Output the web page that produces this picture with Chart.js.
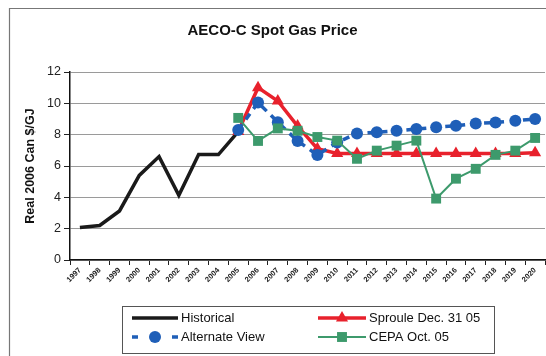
<!DOCTYPE html>
<html>
<head>
<meta charset="utf-8">
<script src="https://cdn.jsdelivr.net/npm/chart.js@4/dist/chart.umd.min.js"></script>
<style>
  html, body { margin: 0; padding: 0; background: #fff; }
  #wrap { width: 546px; height: 356px; position: relative; }
</style>
</head>
<body>
<div id="wrap"><canvas id="c" width="546" height="356"></canvas></div>
<script>
// Years on the category axis
const years = ['1997','1998','1999','2000','2001','2002','2003','2004','2005','2006','2007','2008',
               '2009','2010','2011','2012','2013','2014','2015','2016','2017','2018','2019','2020'];

// Real 2006 Can $/GJ
const historical = [2.08, 2.2, 3.13, 5.4, 6.6, 4.13, 6.73, 6.73, 8.2,
                    null, null, null, null, null, null, null, null, null, null, null, null, null, null, null];
const sproule = [null, null, null, null, null, null, null, null,
                 8.2, 11.0, 10.15, 8.55, 7.1, 6.8, 6.8, 6.8, 6.8, 6.8, 6.8, 6.8, 6.8, 6.8, 6.8, 6.85];
const alternate = [null, null, null, null, null, null, null, null,
                   8.3, 10.05, 8.8, 7.6, 6.7, 7.5, 8.08, 8.15, 8.25, 8.36, 8.47, 8.57, 8.72, 8.78, 8.89, 9.0];
const cepa = [null, null, null, null, null, null, null, null,
              9.07, 7.6, 8.4, 8.25, 7.85, 7.62, 6.46, 6.98, 7.3, 7.62, 3.92, 5.19, 5.82, 6.71, 6.98, 7.79];

const yTicks = [0, 2, 4, 6, 8, 10, 12];

const FONT = 'Liberation Sans, Arial, Helvetica, sans-serif';
const RED = '#e8212c', BLUE = '#1f5fb8', GREEN = '#3d9a6c', BLACK = '#1a1a1a';

// Outer frame of the chart
const framePlugin = {
  id: 'frame',
  beforeDraw(chart) {
    const ctx = chart.ctx;
    ctx.save();
    ctx.fillStyle = '#fff';
    ctx.fillRect(0, 0, chart.width, chart.height);
    ctx.strokeStyle = '#777';
    ctx.lineWidth = 1.2;
    ctx.beginPath();
    ctx.moveTo(9.5, 356);
    ctx.lineTo(9.5, 8.5);
    ctx.lineTo(546, 8.5);
    ctx.stroke();
    ctx.restore();
  }
};

// Two-column boxed legend below the axis
const boxLegend = {
  id: 'boxLegend',
  afterDraw(chart) {
    const ctx = chart.ctx;
    const ds = chart.data.datasets;
    const byLabel = l => ds.find(d => d.label === l);
    const box = { x: 122.5, y: 306.5, w: 372, h: 47 };
    ctx.save();
    ctx.strokeStyle = '#555';
    ctx.lineWidth = 1;
    ctx.strokeRect(box.x, box.y, box.w, box.h);

    const entries = [
      { d: byLabel('Historical'), x0: 132, x1: 178, y: 318 },
      { d: byLabel('Sproule Dec. 31 05'), x0: 318, x1: 366, y: 318 },
      { d: byLabel('Alternate View'), x0: 132, x1: 178, y: 337 },
      { d: byLabel('CEPA Oct. 05'), x0: 318, x1: 366, y: 337 }
    ];
    entries.forEach(e => {
      const d = e.d;
      ctx.strokeStyle = d.borderColor;
      ctx.lineWidth = d.borderWidth;
      ctx.lineCap = 'butt';
      if (d.borderDash && d.borderDash.length) {
        // short dash at each end, marker in the middle
        ctx.beginPath();
        ctx.moveTo(e.x0, e.y); ctx.lineTo(e.x0 + 6, e.y);
        ctx.moveTo(e.x1 - 6, e.y); ctx.lineTo(e.x1, e.y);
        ctx.stroke();
      } else {
        ctx.beginPath();
        ctx.moveTo(e.x0, e.y); ctx.lineTo(e.x1, e.y);
        ctx.stroke();
      }
      if (d.pointStyle && d.pointRadius > 0) {
        ctx.fillStyle = d.pointBackgroundColor;
        ctx.strokeStyle = d.pointBackgroundColor;
        Chart.helpers.drawPoint(ctx, {
          pointStyle: d.pointStyle, radius: d.pointRadius, borderWidth: 0, rotation: 0
        }, (e.x0 + e.x1) / 2, e.y);
      }
      ctx.fillStyle = '#111';
      ctx.font = '13px ' + FONT;
      ctx.textBaseline = 'middle';
      ctx.textAlign = 'left';
      ctx.fillText(d.label, e.x1 + 3, e.y + 0.5);
    });
    ctx.restore();
  }
};

new Chart(document.getElementById('c'), {
  type: 'line',
  data: {
    labels: years,
    datasets: [
      {
        label: 'Historical', data: historical, order: 4,
        borderColor: BLACK, borderWidth: 3.5, pointRadius: 0, pointStyle: false,
        tension: 0, spanGaps: false
      },
      {
        label: 'Sproule Dec. 31 05', data: sproule, order: 3,
        borderColor: RED, borderWidth: 3.5,
        pointStyle: 'triangle', pointRadius: 7, pointBackgroundColor: RED, pointBorderColor: RED,
        pointBorderWidth: 0, tension: 0
      },
      {
        label: 'Alternate View', data: alternate, order: 2,
        borderColor: BLUE, borderWidth: 3.5, borderDash: [7, 6],
        pointStyle: 'circle', pointRadius: 6, pointBackgroundColor: BLUE, pointBorderColor: BLUE,
        pointBorderWidth: 0, tension: 0
      },
      {
        label: 'CEPA Oct. 05', data: cepa, order: 1,
        borderColor: GREEN, borderWidth: 2,
        pointStyle: 'rect', pointRadius: 7, pointBackgroundColor: GREEN, pointBorderColor: GREEN,
        pointBorderWidth: 0, tension: 0
      }
    ]
  },
  options: {
    responsive: false,
    animation: false,
    devicePixelRatio: 1,
    layout: { autoPadding: false, padding: { left: 0, right: 1, top: 0, bottom: 0 } },
    plugins: {
      legend: { display: false },
      tooltip: { enabled: false },
      title: {
        display: true,
        text: 'AECO-C Spot Gas Price',
        color: '#111',
        font: { family: FONT, size: 15, weight: 'bold' },
        padding: { top: 22, bottom: 32 }
      }
    },
    scales: {
      x: {
        type: 'category',
        offset: true,
        grid: { offset: true, drawOnChartArea: false, tickLength: 5, tickColor: '#222', lineWidth: 1 },
        border: { color: '#111', width: 1.5 },
        ticks: {
          autoSkip: false, minRotation: 45, maxRotation: 45, padding: 1,
          color: '#222', font: { family: FONT, size: 7.5, weight: 'bold' }
        },
        afterFit(s) { s.height = 96; }
      },
      y: {
        min: 0, max: 12,
        afterBuildTicks(s) { s.ticks = yTicks.map(v => ({ value: v })); },
        grid: { color: '#9a9a9a', lineWidth: 1, tickLength: 6, tickColor: '#222' },
        border: { color: '#111', width: 1.5 },
        ticks: { padding: 3, color: '#222', font: { family: FONT, size: 12.5 } },
        title: {
          display: true, text: 'Real 2006 Can $/GJ', color: '#111',
          font: { family: FONT, size: 12.5, weight: 'bold' },
          padding: { top: 23, bottom: 0 }
        },
        afterFit(s) { s.width = 70; }
      }
    }
  },
  plugins: [framePlugin, boxLegend]
});
</script>
</body>
</html>
